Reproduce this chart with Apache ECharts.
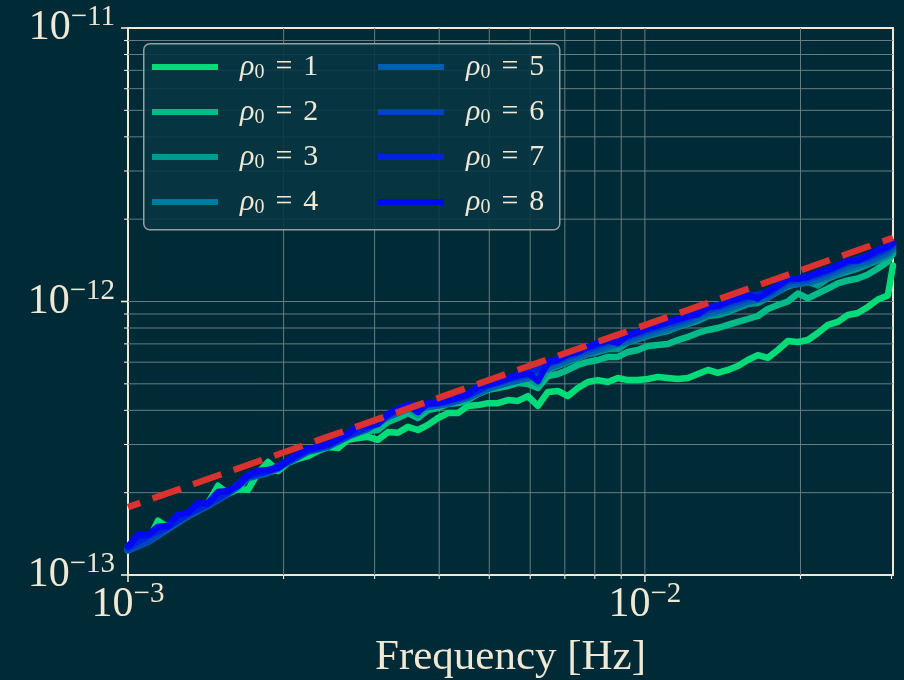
<!DOCTYPE html>
<html><head><meta charset="utf-8">
<script src="https://cdn.jsdelivr.net/npm/echarts@6/dist/echarts.min.js"></script>
<style>html,body{margin:0;padding:0;background:#002b36;}#c{width:904px;height:680px;}</style>
</head><body><div id="c"></div>
<script>
// ---------- data ----------
const freq = [1.000e-3,1.045e-3,1.093e-3,1.143e-3,1.195e-3,1.249e-3,1.306e-3,1.366e-3,1.428e-3,1.493e-3,1.561e-3,1.632e-3,1.707e-3,1.784e-3,1.866e-3,1.951e-3,2.040e-3,2.133e-3,2.230e-3,2.331e-3,2.437e-3,2.548e-3,2.664e-3,2.786e-3,2.912e-3,3.045e-3,3.184e-3,3.329e-3,3.480e-3,3.639e-3,3.804e-3,3.978e-3,4.159e-3,4.348e-3,4.546e-3,4.753e-3,4.970e-3,5.196e-3,5.433e-3,5.680e-3,5.939e-3,6.209e-3,6.492e-3,6.787e-3,7.096e-3,7.419e-3,7.757e-3,8.110e-3,8.480e-3,8.866e-3,9.270e-3,9.693e-3,1.013e-2,1.060e-2,1.108e-2,1.158e-2,1.211e-2,1.266e-2,1.324e-2,1.384e-2,1.447e-2,1.513e-2,1.582e-2,1.654e-2,1.729e-2,1.808e-2,1.891e-2,1.977e-2,2.067e-2,2.161e-2,2.259e-2,2.362e-2,2.470e-2,2.582e-2,2.700e-2,2.823e-2,2.951e-2,3.020e-2];
const freqCoarse = [1.000e-3,1.093e-3,1.195e-3,1.306e-3,1.428e-3,1.561e-3,1.707e-3,1.866e-3,2.040e-3,2.230e-3,2.437e-3,2.664e-3,2.912e-3,3.184e-3,3.480e-3,3.804e-3,4.159e-3,4.546e-3,4.970e-3,5.433e-3,5.939e-3,6.492e-3,7.096e-3,7.757e-3,8.480e-3,9.270e-3,1.013e-2,1.108e-2,1.211e-2,1.324e-2,1.447e-2,1.582e-2,1.729e-2,1.891e-2,2.067e-2,2.259e-2,2.470e-2,2.700e-2,2.951e-2,3.020e-2];

const psd1 = [1.23e-13,1.32e-13,1.33e-13,1.58e-13,1.49e-13,1.63e-13,1.64e-13,1.79e-13,1.83e-13,2.12e-13,1.98e-13,2.06e-13,2.05e-13,2.36e-13,2.59e-13,2.40e-13,2.57e-13,2.66e-13,2.72e-13,2.84e-13,2.94e-13,2.91e-13,3.12e-13,3.17e-13,3.20e-13,3.12e-13,3.33e-13,3.31e-13,3.48e-13,3.39e-13,3.54e-13,3.75e-13,3.91e-13,3.91e-13,4.15e-13,4.18e-13,4.25e-13,4.25e-13,4.36e-13,4.33e-13,4.51e-13,4.15e-13,4.67e-13,4.71e-13,4.51e-13,4.83e-13,5.08e-13,5.16e-13,5.08e-13,5.25e-13,5.16e-13,5.16e-13,5.21e-13,5.30e-13,5.25e-13,5.21e-13,5.25e-13,5.43e-13,5.62e-13,5.48e-13,5.62e-13,5.81e-13,6.11e-13,6.37e-13,6.22e-13,6.65e-13,7.17e-13,7.11e-13,7.23e-13,7.67e-13,8.21e-13,8.42e-13,8.93e-13,9.08e-13,9.55e-13,10.17e-13,10.52e-13,13.54e-13];
const psd2 = [1.24e-13,1.33e-13,1.33e-13,1.47e-13,1.49e-13,1.63e-13,1.66e-13,1.80e-13,1.80e-13,1.98e-13,1.99e-13,2.08e-13,2.28e-13,2.36e-13,2.38e-13,2.42e-13,2.59e-13,2.72e-13,2.84e-13,2.86e-13,2.94e-13,3.06e-13,3.20e-13,3.39e-13,3.36e-13,3.39e-13,3.63e-13,3.75e-13,3.91e-13,3.75e-13,4.01e-13,4.08e-13,4.22e-13,4.25e-13,4.36e-13,4.59e-13,4.75e-13,4.83e-13,4.91e-13,5.04e-13,4.99e-13,4.83e-13,5.34e-13,5.43e-13,5.62e-13,5.86e-13,6.01e-13,6.11e-13,6.27e-13,6.27e-13,6.54e-13,6.65e-13,6.88e-13,6.93e-13,6.99e-13,7.23e-13,7.42e-13,7.67e-13,7.87e-13,8.00e-13,8.21e-13,8.42e-13,8.63e-13,8.85e-13,9.39e-13,9.71e-13,10.00e-13,10.70e-13,10.26e-13,10.70e-13,11.15e-13,11.64e-13,11.94e-13,12.14e-13,12.55e-13,13.20e-13,14.00e-13,14.98e-13];
const psd3 = [1.26e-13,1.39e-13,1.39e-13,1.49e-13,1.50e-13,1.64e-13,1.67e-13,1.82e-13,1.82e-13,1.99e-13,2.01e-13,2.10e-13,2.30e-13,2.38e-13,2.40e-13,2.44e-13,2.61e-13,2.75e-13,2.86e-13,2.91e-13,2.99e-13,3.12e-13,3.25e-13,3.48e-13,3.48e-13,3.54e-13,3.81e-13,3.98e-13,4.08e-13,3.85e-13,4.15e-13,4.18e-13,4.29e-13,4.36e-13,4.48e-13,4.71e-13,4.87e-13,4.95e-13,5.08e-13,5.21e-13,5.25e-13,4.99e-13,5.62e-13,5.81e-13,6.01e-13,6.22e-13,6.43e-13,6.54e-13,6.70e-13,6.70e-13,7.11e-13,7.29e-13,7.48e-13,7.67e-13,7.80e-13,8.07e-13,8.28e-13,8.49e-13,8.85e-13,8.93e-13,9.15e-13,9.47e-13,9.79e-13,9.87e-13,10.34e-13,10.88e-13,11.35e-13,11.64e-13,11.84e-13,11.44e-13,12.14e-13,12.55e-13,12.87e-13,13.20e-13,13.66e-13,14.12e-13,14.60e-13,15.22e-13];
const psd4 = [1.24e-13,1.33e-13,1.49e-13,1.66e-13,1.80e-13,1.99e-13,2.28e-13,2.38e-13,2.59e-13,2.84e-13,2.96e-13,3.22e-13,3.45e-13,3.78e-13,4.05e-13,4.11e-13,4.25e-13,4.44e-13,4.83e-13,5.04e-13,5.25e-13,5.66e-13,6.06e-13,6.43e-13,6.76e-13,7.11e-13,7.54e-13,7.87e-13,8.35e-13,8.93e-13,9.31e-13,9.92e-13,10.34e-13,11.44e-13,11.74e-13,12.24e-13,13.09e-13,13.78e-13,14.85e-13,15.49e-13];
const psd5 = [1.23e-13,1.32e-13,1.47e-13,1.64e-13,1.79e-13,1.98e-13,2.26e-13,2.36e-13,2.57e-13,2.82e-13,2.94e-13,3.20e-13,3.42e-13,3.78e-13,4.05e-13,4.11e-13,4.22e-13,4.44e-13,4.79e-13,5.04e-13,5.25e-13,5.71e-13,6.11e-13,6.49e-13,6.88e-13,7.17e-13,7.61e-13,8.00e-13,8.42e-13,9.08e-13,9.47e-13,10.00e-13,10.34e-13,11.54e-13,11.74e-13,12.44e-13,13.43e-13,14.00e-13,15.10e-13,15.75e-13];
const psd6 = [1.24e-13,1.33e-13,1.49e-13,1.66e-13,1.80e-13,1.99e-13,2.28e-13,2.38e-13,2.59e-13,2.84e-13,2.96e-13,3.22e-13,3.45e-13,3.81e-13,4.11e-13,4.18e-13,4.29e-13,4.51e-13,4.91e-13,5.16e-13,5.39e-13,5.86e-13,6.27e-13,6.65e-13,7.05e-13,7.35e-13,7.80e-13,8.21e-13,8.63e-13,9.31e-13,9.71e-13,10.26e-13,10.61e-13,11.84e-13,12.04e-13,12.76e-13,13.78e-13,14.36e-13,15.49e-13,16.02e-13];
const psd7 = [1.26e-13,1.39e-13,1.50e-13,1.67e-13,1.82e-13,2.01e-13,2.30e-13,2.40e-13,2.61e-13,2.86e-13,2.99e-13,3.25e-13,3.48e-13,3.85e-13,4.15e-13,4.22e-13,4.33e-13,4.55e-13,4.95e-13,5.21e-13,5.43e-13,5.96e-13,6.37e-13,6.76e-13,7.17e-13,7.48e-13,7.93e-13,8.35e-13,8.78e-13,9.47e-13,9.92e-13,10.43e-13,10.79e-13,12.04e-13,12.24e-13,12.98e-13,14.00e-13,14.60e-13,15.75e-13,16.30e-13];
const psd8 = [1.27e-13,1.40e-13,1.40e-13,1.50e-13,1.51e-13,1.66e-13,1.69e-13,1.83e-13,1.83e-13,2.01e-13,2.03e-13,2.12e-13,2.32e-13,2.40e-13,2.42e-13,2.46e-13,2.63e-13,2.77e-13,2.89e-13,2.94e-13,3.01e-13,3.14e-13,3.28e-13,3.51e-13,3.51e-13,3.57e-13,3.88e-13,4.05e-13,4.18e-13,3.94e-13,4.25e-13,4.25e-13,4.36e-13,4.44e-13,4.59e-13,4.87e-13,4.99e-13,5.08e-13,5.25e-13,5.39e-13,5.48e-13,5.12e-13,6.01e-13,6.11e-13,6.43e-13,6.54e-13,6.82e-13,7.05e-13,7.23e-13,7.05e-13,7.54e-13,7.74e-13,8.00e-13,8.21e-13,8.42e-13,8.63e-13,8.85e-13,9.00e-13,9.55e-13,9.63e-13,10.00e-13,10.26e-13,10.52e-13,10.26e-13,10.88e-13,11.44e-13,12.14e-13,12.14e-13,12.34e-13,12.76e-13,13.09e-13,13.54e-13,14.12e-13,14.12e-13,14.72e-13,15.49e-13,15.89e-13,16.43e-13];

const refFreq = [1.0e-3, 3.02e-2];
const refPsd = [1.77e-13, 1.71e-12];

const seriesNames = ['ρ0 = 1','ρ0 = 2','ρ0 = 3','ρ0 = 4','ρ0 = 5','ρ0 = 6','ρ0 = 7','ρ0 = 8'];
const seriesColors = ['#00dc78','#00bc88','#009a8e','#0079a0','#0060b0','#0044c4','#0024dc','#0008f4'];

const xMajorTicks = [1e-3, 1e-2];
const xMinorTicks = [2e-3,3e-3,4e-3,5e-3,6e-3,7e-3,8e-3,9e-3,2e-2,3e-2];
const yMajorTicks = [1e-13, 1e-12, 1e-11];
const yMinorTicks = [2e-13,3e-13,4e-13,5e-13,6e-13,7e-13,8e-13,9e-13,2e-12,3e-12,4e-12,5e-12,6e-12,7e-12,8e-12,9e-12];
const xLabel = 'Frequency [Hz]';

// ---------- style ----------
const BG = '#002b36', FG = '#eee8d5', GRIDC = '#687c82';
const SERIF = "'Liberation Serif','DejaVu Serif',serif";

function powLabel(v) {
  const e = Math.log10(v);
  const r = Math.round(e);
  if (Math.abs(e - r) > 1e-6) return '';
  return '{b|10}{s|' + (r < 0 ? '\u2212' + (-r) : r) + '}';
}
const powRich = {
  b: {fontFamily: SERIF, fontSize: 42, lineHeight: 50, color: FG, verticalAlign: 'middle'},
  s: {fontFamily: SERIF, fontSize: 29, lineHeight: 28, color: FG, verticalAlign: 'top'}
};

const gridData = [];
xMajorTicks.forEach(v => gridData.push([v, 1e-12, 0, 1]));
xMinorTicks.forEach(v => gridData.push([v, 1e-12, 0, 0]));
yMajorTicks.forEach(v => gridData.push([1e-2, v, 1, 1]));
yMinorTicks.forEach(v => gridData.push([1e-2, v, 1, 0]));

function renderGrid(params, api) {
  const cs = params.coordSys;
  const dir = api.value(2), major = api.value(3);
  const p = api.coord([api.value(0), api.value(1)]);
  const len = major ? 7 : 4;
  const tw = major ? 1.6 : 1.1;
  const ch = [];
  if (dir === 0) {
    const x = p[0];
    if (x > cs.x + 1.5 && x < cs.x + cs.width - 1.5)
      ch.push({type: 'line', shape: {x1: x, y1: cs.y, x2: x, y2: cs.y + cs.height}, style: {stroke: GRIDC, lineWidth: 1}});
    ch.push({type: 'line', shape: {x1: x, y1: cs.y + cs.height, x2: x, y2: cs.y + cs.height + len}, style: {stroke: FG, lineWidth: tw}});
  } else {
    const y = p[1];
    if (y > cs.y + 1.5 && y < cs.y + cs.height - 1.5)
      ch.push({type: 'line', shape: {x1: cs.x, y1: y, x2: cs.x + cs.width, y2: y}, style: {stroke: GRIDC, lineWidth: 1}});
    ch.push({type: 'line', shape: {x1: cs.x - len, y1: y, x2: cs.x, y2: y}, style: {stroke: FG, lineWidth: tw}});
  }
  return {type: 'group', children: ch};
}

const psdFull = [psd1, psd2, psd3, null, null, null, null, psd8];
const psdCoarse = [null, null, null, psd4, psd5, psd6, psd7, null];

const series = [{
  type: 'custom', name: '_grid', silent: true, z: 1, clip: false,
  renderItem: renderGrid, encode: {x: 0, y: 1}, data: gridData
}];
seriesNames.forEach((nm, i) => {
  const xs = psdFull[i] ? freq : freqCoarse;
  const ys = psdFull[i] || psdCoarse[i];
  series.push({
    type: 'line', name: nm, symbol: 'none', showSymbol: false, z: 2,
    color: seriesColors[i],
    lineStyle: {color: seriesColors[i], width: 6.5, join: 'round', cap: 'round'},
    itemStyle: {color: seriesColors[i]},
    data: xs.map((f, k) => [f, ys[k]])
  });
});
series.push({
  type: 'line', name: 'ref', symbol: 'none', showSymbol: false, z: 3,
  lineStyle: {color: '#dc322f', width: 6.5, type: [30, 13], dashOffset: 17, cap: 'butt'},
  data: refFreq.map((f, k) => [f, refPsd[k]])
});

function legendFmt(name) {
  const n = name.split('=')[1].trim();
  return '{r|ρ}{z|0}{e|=}{n|' + n + '}';
}
const legendRich = {
  r: {fontFamily: SERIF, fontStyle: 'italic', fontSize: 30, lineHeight: 32, verticalAlign: 'middle', color: FG, padding: [0, 0, 0, 17]},
  z: {fontFamily: SERIF, fontSize: 20, lineHeight: 20, verticalAlign: 'bottom', color: FG},
  e: {fontFamily: SERIF, fontSize: 30, lineHeight: 32, verticalAlign: 'middle', color: FG, padding: [0, 11, 0, 11]},
  n: {fontFamily: SERIF, fontSize: 30, lineHeight: 32, verticalAlign: 'middle', color: FG}
};
function mkLegend(names, left) {
  return {
    data: names, left: left, top: 52, orient: 'vertical', padding: 0,
    itemWidth: 66, itemHeight: 6, itemGap: 14, icon: 'rect', selectedMode: false, z: 20,
    formatter: legendFmt, textStyle: {color: FG, rich: legendRich}
  };
}

const chart = echarts.init(document.getElementById('c'), null, {renderer: 'canvas'});
chart.setOption({
  backgroundColor: BG,
  animation: false,
  grid: {left: 128, top: 28, right: 11, bottom: 105, outerBoundsMode: 'none', containLabel: false,
         show: true, borderColor: FG, borderWidth: 2, backgroundColor: 'transparent'},
  xAxis: {
    type: 'log', logBase: 10, min: 1e-3, max: 3.02e-2,
    axisLine: {show: false}, axisTick: {show: false}, splitLine: {show: false},
    axisLabel: {margin: 5, formatter: powLabel, rich: powRich, showMaxLabel: false},
    name: xLabel, nameLocation: 'middle', nameGap: 61,
    nameTextStyle: {fontFamily: SERIF, fontSize: 43, lineHeight: 43, color: FG}
  },
  yAxis: {
    type: 'log', logBase: 10, min: 1e-13, max: 1e-11,
    axisLine: {show: false}, axisTick: {show: false}, splitLine: {show: false},
    axisLabel: {margin: 13, formatter: powLabel, rich: powRich}
  },
  legend: [mkLegend(seriesNames.slice(0, 4), 152), mkLegend(seriesNames.slice(4), 378)],
  graphic: [{
    type: 'rect', left: 143, top: 43, z: 10, silent: true,
    shape: {width: 416, height: 186, r: 6},
    style: {fill: 'rgba(7,54,66,0.88)', stroke: '#93a1a1', lineWidth: 1.5}
  }],
  series: series
});
</script>
</body></html>
